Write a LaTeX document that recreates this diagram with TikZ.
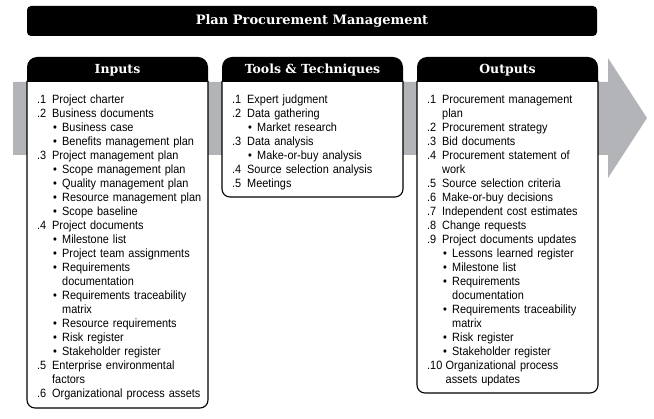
\documentclass[tikz,border=0pt]{standalone}
\usepackage{fontspec}
\setmainfont{Liberation Sans}[FakeStretch=0.91]
\newfontfamily\hdfont{DejaVu Serif}
\definecolor{bandgray}{RGB}{178,180,183}
\newcommand\nitem[2]{\par\noindent\strut\makebox[15pt][l]{#1}#2}
\newcommand\nitemw[2]{\par\noindent\strut\makebox[18.5pt][l]{#1}#2}
\newcommand\nbul[1]{\par\noindent\strut\hspace*{16pt}\makebox[9pt][l]{\textbullet}#1}
\newcommand\ncont[1]{\par\noindent\strut\hspace*{15pt}#1}
\newcommand\ncontw[1]{\par\noindent\strut\hspace*{18.5pt}#1}
\newcommand\nbcont[1]{\par\noindent\strut\hspace*{25pt}#1}
\tikzset{
  hdbar/.style={fill=black},
  boxbody/.style={draw=black, fill=white, line width=1.1pt},
  hdtext/.style={text=white, font=\hdfont\bfseries\fontsize{12.5}{14}\selectfont, inner sep=0pt},
  titletext/.style={text=white, font=\hdfont\bfseries\fontsize{13}{15}\selectfont, inner sep=0pt},
  listtext/.style={anchor=north west, inner sep=0pt, text width=180pt, align=left,
    font=\fontsize{12}{14}\selectfont}
}
\begin{document}
\begin{tikzpicture}[x=1pt,y=-1pt]
\useasboundingbox (0,0) rectangle (654,419);
% gray process arrow
\fill[bandgray] (13,82) -- (608,82) -- (608,58) -- (647,118) -- (608,178) -- (608,155) -- (13,155) -- cycle;
% title bar
\fill[hdbar, rounded corners=4pt] (27,6) rectangle (597,36);
\node[titletext] (title) at (312,21.5) {Plan Procurement Management};
% boxes: L R B
\foreach \L/\R/\B in {27/208/408, 222/403/197, 417/598/393}{
  \draw[boxbody, rounded corners=8pt] (\L,81) -- (\L,\B) -- (\R,\B) -- (\R,81);
  \fill[hdbar, rounded corners=10pt] (\L,82) -- (\L,57) -- (\R,57) -- (\R,82);
}
\node[hdtext] (hin) at (117.5,70) {Inputs};
\node[hdtext] (htt) at (312.5,70) {Tools \& Techniques};
\node[hdtext] (hout) at (507.5,70) {Outputs};
% lists
\node[listtext] (lin) at (37,89.2) {%
\nitem{.1}{Project charter}
\nitem{.2}{Business documents}
\nbul{Business case}
\nbul{Benefits management plan}
\nitem{.3}{Project management plan}
\nbul{Scope management plan}
\nbul{Quality management plan}
\nbul{Resource management plan}
\nbul{Scope baseline}
\nitem{.4}{Project documents}
\nbul{Milestone list}
\nbul{Project team assignments}
\nbul{Requirements}
\nbcont{documentation}
\nbul{Requirements traceability}
\nbcont{matrix}
\nbul{Resource requirements}
\nbul{Risk register}
\nbul{Stakeholder register}
\nitem{.5}{Enterprise environmental}
\ncont{factors}
\nitem{.6}{Organizational process assets}};
\node[listtext] (ltt) at (232,89.2) {%
\nitem{.1}{Expert judgment}
\nitem{.2}{Data gathering}
\nbul{Market research}
\nitem{.3}{Data analysis}
\nbul{Make-or-buy analysis}
\nitem{.4}{Source selection analysis}
\nitem{.5}{Meetings}};
\node[listtext] (lout) at (427,89.2) {%
\nitem{.1}{Procurement management}
\ncont{plan}
\nitem{.2}{Procurement strategy}
\nitem{.3}{Bid documents}
\nitem{.4}{Procurement statement of}
\ncont{work}
\nitem{.5}{Source selection criteria}
\nitem{.6}{Make-or-buy decisions}
\nitem{.7}{Independent cost estimates}
\nitem{.8}{Change requests}
\nitem{.9}{Project documents updates}
\nbul{Lessons learned register}
\nbul{Milestone list}
\nbul{Requirements}
\nbcont{documentation}
\nbul{Requirements traceability}
\nbcont{matrix}
\nbul{Risk register}
\nbul{Stakeholder register}
\nitemw{.10}{Organizational process}
\ncontw{assets updates}};
\end{tikzpicture}
\end{document}
